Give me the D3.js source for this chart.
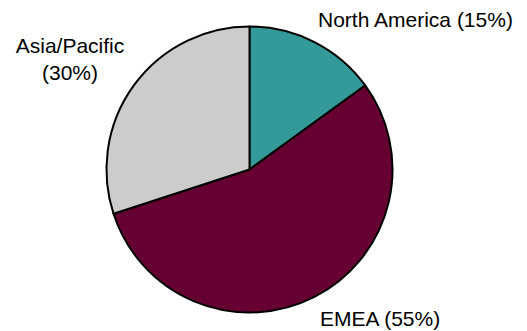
<!DOCTYPE html>
<html>
<head>
<meta charset="utf-8">
<script src="https://cdn.jsdelivr.net/npm/d3@7"></script>
<style>
  body { margin: 0; background: #fff; }
  text { font-family: "Liberation Sans", Arial, sans-serif; fill: #000; }
</style>
</head>
<body>
<svg id="chart" width="527" height="331"></svg>
<script>
// data
var regions = ["North America", "EMEA", "Asia/Pacific"];
var shares = [15, 55, 30];
var colors = ["#339999", "#660033", "#cccccc"];

var svg = d3.select("#chart"),
    cx = 249.5,
    cy = 169.5,
    radius = 143;

var pie = d3.pie().sort(null).value((d) => d.value);
var arc = d3.arc().innerRadius(0).outerRadius(radius);

var slices = pie(regions.map((r, i) => ({ name: r, value: shares[i], color: colors[i] })));

var g = svg.append("g").attr("transform", `translate(${cx},${cy})`);

g.selectAll("path")
    .data(slices)
    .join("path")
    .attr("d", arc)
    .attr("fill", (d) => d.data.color)
    .attr("stroke", "#000")
    .attr("stroke-width", 2)
    .attr("stroke-linejoin", "round");

// labels - placed outside the pie like the original
var labelPos = {
    "North America": { x: 318, y: 27, anchor: "start", lines: ["North America (15%)"] },
    "EMEA": { x: 320, y: 326, anchor: "start", lines: ["EMEA (55%)"] },
    "Asia/Pacific": { x: 70, y: 53, anchor: "middle", lines: ["Asia/Pacific", "(30%)"] }
};

slices.forEach((s) => {
    var p = labelPos[s.data.name];
    var t = svg.append("text")
        .attr("x", p.x)
        .attr("y", p.y)
        .attr("text-anchor", p.anchor)
        .style("font-size", "21px");
    p.lines.forEach((ln, i) => {
        t.append("tspan")
            .attr("x", p.x)
            .attr("dy", i === 0 ? 0 : 27)
            .text(ln);
    });
});
</script>
</body>
</html>
